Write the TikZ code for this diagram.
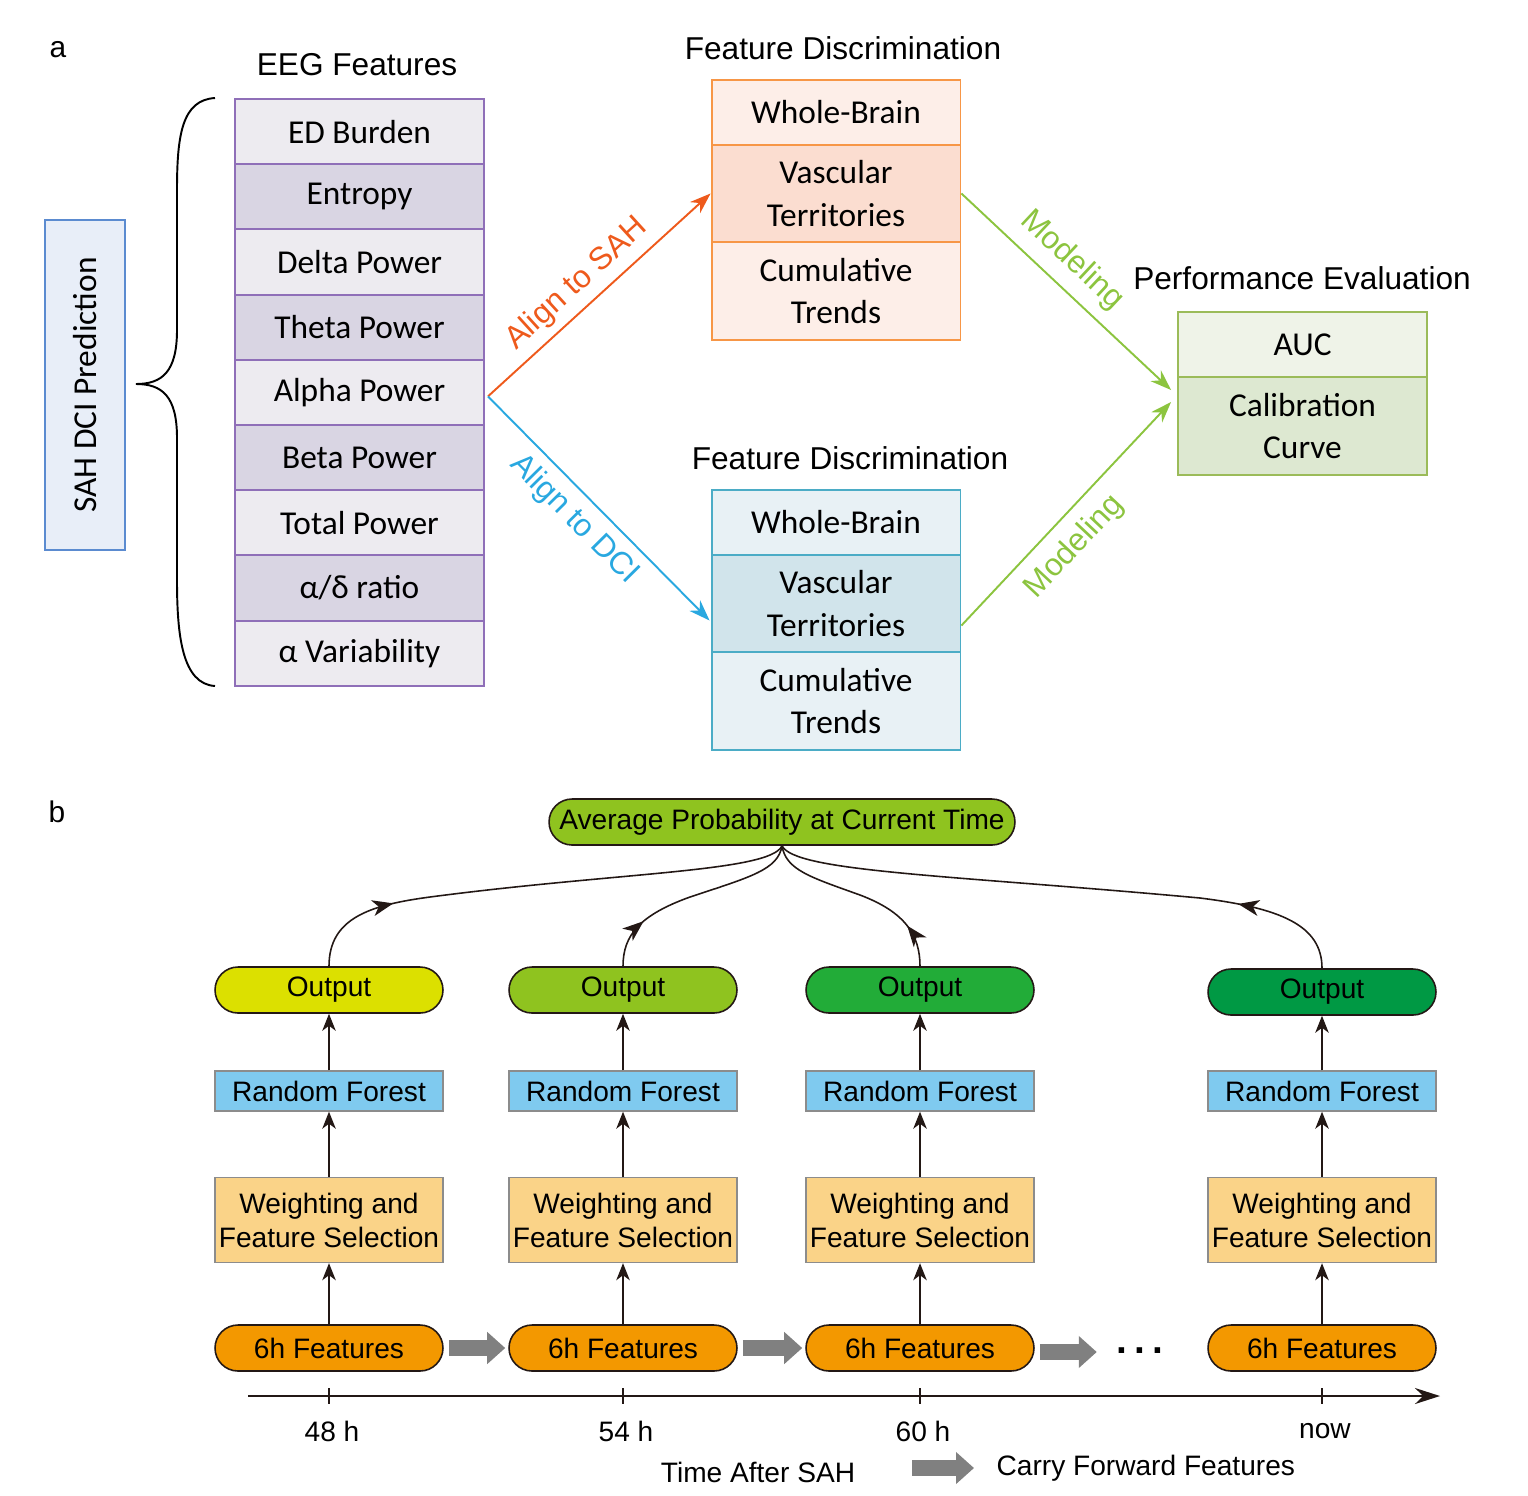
\documentclass[tikz,border=0pt]{standalone}
\usepackage{fontspec}
\setmainfont{Liberation Sans}
\newfontfamily\calib{Carlito}
\usepackage{tikz}
\usetikzlibrary{arrows.meta, calc, decorations.markings}
\definecolor{predfill}{HTML}{E8EEF8}
\definecolor{predline}{HTML}{5B8BD0}
\definecolor{eegA}{HTML}{EDEBF0}
\definecolor{eegB}{HTML}{D9D5E3}
\definecolor{eegline}{HTML}{8F6FB8}
\definecolor{sahA}{HTML}{FDEEE8}
\definecolor{sahB}{HTML}{FBDDD0}
\definecolor{sahline}{HTML}{F79646}
\definecolor{sahflow}{HTML}{EE5A1C}
\definecolor{dciA}{HTML}{E8F1F5}
\definecolor{dciB}{HTML}{D1E4EB}
\definecolor{dciline}{HTML}{4BACC6}
\definecolor{dciflow}{HTML}{29A8E0}
\definecolor{perfA}{HTML}{EFF3E8}
\definecolor{perfB}{HTML}{DDE8D1}
\definecolor{perfline}{HTML}{9BBB59}
\definecolor{modflow}{HTML}{8CC43F}
\definecolor{avgfill}{HTML}{8FC31F}
\definecolor{outA}{HTML}{DCE000}
\definecolor{outB}{HTML}{8FC31F}
\definecolor{outC}{HTML}{22AC38}
\definecolor{outD}{HTML}{009944}
\definecolor{rffill}{HTML}{7FCAEF}
\definecolor{wfsfill}{HTML}{FAD388}
\definecolor{featfill}{HTML}{F39800}
\definecolor{ink}{HTML}{231815}
\definecolor{carrygray}{HTML}{808080}
\newcommand\titlefont{\fontsize{18pt}{21pt}\selectfont}
\newcommand\cellfont{\calib\fontsize{19pt}{24pt}\selectfont}
\newcommand\stagefont{\fontsize{16pt}{19.3pt}\selectfont}

\begin{document}
\begin{tikzpicture}[x=0.02cm, y=-0.02cm,
  cell/.style={draw, line width=1.1pt, minimum width=4.98cm, minimum height=1.3cm,
    inner sep=0pt, align=center, font=\cellfont},
  tallcell/.style={cell, minimum height=1.95cm},
  link/.style={line width=1.1pt, -{Stealth[length=0.42cm, width=0.3cm]}},
  pill/.style={draw=ink, line width=0.9pt, rounded corners=0.46cm, minimum width=4.56cm,
    minimum height=0.92cm, inner sep=0pt, font=\stagefont},
  flatbox/.style={draw=black!45, line width=0.8pt, minimum width=4.56cm, inner sep=0pt,
    align=center, font=\stagefont},
  up/.style={ink, line width=0.9pt, -{Stealth[length=0.34cm, width=0.27cm, inset=0.1cm]}},
  midtip/.style={ink, line width=0.9pt, postaction={decorate}, decoration={markings,
    mark=at position #1 with {\arrow{Stealth[length=0.42cm, width=0.32cm, inset=0.12cm]}}}},
  carryarrow/.style={carrygray, line width=0.32cm, -{Triangle[length=0.36cm, width=0.62cm]}}]
  \useasboundingbox (0,0) rectangle (1528,1495);

  % panel a
  \node[font=\fontsize{17pt}{20pt}\selectfont] (lbla) at (58,50) {a};
  \node[cell, draw=predline, fill=predfill, rotate=90, minimum width=6.6cm,
    minimum height=1.6cm] (pred) at (85,385) {SAH DCI Prediction};
  \draw[line width=1.1pt] (215,98) .. controls (182,100) and (177,135) .. (177,190)
    -- (177,330) .. controls (177,372) and (162,384) .. (136,384)
    .. controls (162,384) and (177,396) .. (177,438) -- (177,580)
    .. controls (177,635) and (182,684) .. (215,686);

  \node[font=\titlefont] (eegt) at (357,65) {EEG Features};
  \foreach \t [count=\i] in {ED Burden, Entropy, Delta Power, Theta Power, Alpha Power,
      Beta Power, Total Power, α/δ ratio, α Variability} {
    \ifodd\i \def\rowfill{eegA}\else \def\rowfill{eegB}\fi
    \node[cell, draw=eegline, fill=\rowfill] (eeg\i) at (359.5,66.4+65.2*\i) {\t};
  }

  \node[font=\titlefont] (sahtitle) at (843,48) {Feature Discrimination};
  \node[cell, draw=sahline, fill=sahA] (sah1) at (836,112.5) {Whole-Brain};
  \node[tallcell, draw=sahline, fill=sahB] (sah2) at (836,193.5) {Vascular\\Territories};
  \node[tallcell, draw=sahline, fill=sahA] (sah3) at (836,291) {Cumulative\\Trends};

  \node[font=\titlefont] (dcititle) at (850,458) {Feature Discrimination};
  \node[cell, draw=dciline, fill=dciA] (dci1) at (836,522.5) {Whole-Brain};
  \node[tallcell, draw=dciline, fill=dciB] (dci2) at (836,603.5) {Vascular\\Territories};
  \node[tallcell, draw=dciline, fill=dciA] (dci3) at (836,701) {Cumulative\\Trends};

  \node[font=\titlefont] (perftitle) at (1302,278) {Performance Evaluation};
  \node[cell, draw=perfline, fill=perfA] (perf1) at (1302.5,344.5) {AUC};
  \node[tallcell, draw=perfline, fill=perfB] (perf2) at (1302.5,426) {Calibration\\Curve};

  \draw[link, sahflow] ($(eeg5.east)+(3,4)$) -- (sah2.west)
    node[pos=0.47, above=1pt, sloped, font=\titlefont] {Align to SAH};
  \draw[link, dciflow] ($(eeg5.east)+(3,4)$) -- ($(dci2.west)+(-1,17)$)
    node[pos=0.47, below=2pt, sloped, font=\titlefont] {Align to DCI};
  \draw[link, modflow] (sah2.east) -- ($(perf2.west)+(-6,-36)$)
    node[pos=0.44, above=3pt, sloped, font=\titlefont] {Modeling};
  \draw[link, modflow] ($(dci2.east)+(0,22)$) -- ($(perf2.west)+(-6,-24)$)
    node[pos=0.44, below=4pt, sloped, font=\titlefont] {Modeling};

  % panel b
  \def\ca{329} \def\cb{623} \def\cc{920} \def\cd{1322}
  \node[font=\fontsize{17pt}{20pt}\selectfont] (lblb) at (57,812) {b};
  \node[pill, fill=avgfill, minimum width=9.32cm] (avg) at (782,822)
    {Average Probability at Current Time};

  \node[pill, fill=outA] (out1) at (\ca,990) {Output};
  \node[pill, fill=outB] (out2) at (\cb,990) {Output};
  \node[pill, fill=outC] (out3) at (\cc,990) {Output};
  \node[pill, fill=outD] (out4) at (\cd,992) {Output};

  \foreach \x [count=\i] in {\ca,\cb,\cc,\cd} {
    \node[flatbox, fill=rffill, minimum height=0.8cm] (rf\i) at (\x,1091) {Random Forest};
    \node[flatbox, fill=wfsfill, minimum height=1.7cm] (wfs\i) at (\x,1220)
      {Weighting and\\Feature Selection};
    \node[pill, fill=featfill] (feat\i) at (\x,1348) {6h Features};
    \draw[up] (feat\i.north) -- (wfs\i.south);
    \draw[up] (wfs\i.north) -- (rf\i.south);
    \draw[up] (rf\i.north) -- (out\i.south);
  }

  \draw[midtip=0.2] (out1.north) .. controls (\ca,918) and (370,905) .. (430,897)
    .. controls (620,872) and (770,872) .. (avg.south);
  \draw[midtip=0.24] (out2.north) .. controls (\cb,935) and (640,915) .. (690,897)
    .. controls (750,877) and (778,870) .. (avg.south);
  \draw[midtip=0.22] (out3.north) .. controls (\cc,935) and (905,912) .. (860,895)
    .. controls (810,877) and (786,870) .. (avg.south);
  \draw[midtip=0.2] (out4.north) .. controls (\cd,925) and (1280,908) .. (1200,898)
    .. controls (950,875) and (795,872) .. (avg.south);

  \node[font=\fontsize{22pt}{24pt}\selectfont\bfseries] (dots) at (1141,1356) {·\hspace{3pt}·\hspace{3pt}·};
  \draw[carryarrow] ($(feat1.east)+(5,0)$) -- ($(feat2.west)+(-3,0)$);
  \draw[carryarrow] ($(feat2.east)+(5,0)$) -- ($(feat3.west)+(-3,0)$);
  \draw[carryarrow] ($(feat3.east)+(5,4)$) -- ($(feat3.east)+(62,4)$);

  \coordinate (axisL) at (248,1396);
  \coordinate (axisR) at (1440,1396);
  \draw[ink, line width=1.2pt, -{Stealth[length=0.5cm, width=0.32cm]}] (axisL) -- (axisR);
  \foreach \x/\t in {\ca/48 h, \cb/54 h, \cc/60 h, \cd/now} {
    \draw[ink, line width=0.9pt] (\x,1388) -- (\x,1404);
    \node[font=\stagefont] (tick\t) at (\x+3,1431) {\t};
  }
  \node[font=\stagefont] (axist) at (758,1472) {Time After SAH};
  \coordinate (keyL) at (912,1468);
  \draw[carryarrow] (keyL) -- ++(62,0) node[right=5pt, black, font=\stagefont] (keyt)
    {Carry Forward Features};
\end{tikzpicture}
\end{document}
